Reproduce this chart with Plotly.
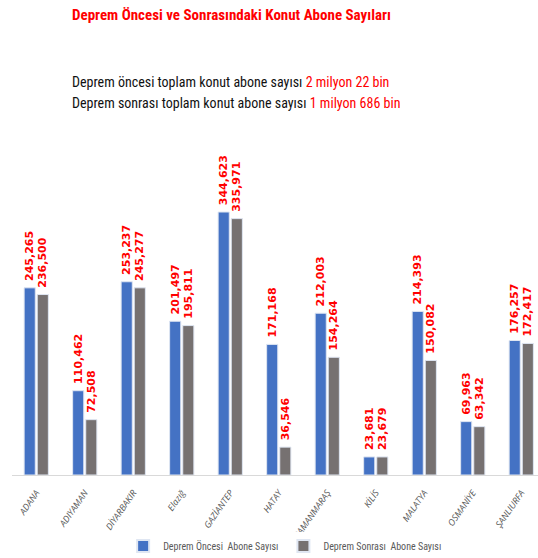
import plotly.graph_objects as go

iller = ["ADANA", "ADIYAMAN", "DİYARBAKIR", "Elazığ", "GAZİANTEP", "HATAY",
         "KAHRAMANMARAŞ", "KİLİS", "MALATYA", "OSMANİYE", "ŞANLIURFA"]
oncesi = [245265, 110462, 253237, 201497, 344623, 171168, 212003, 23681, 214393, 69963, 176257]
sonrasi = [236500, 72508, 245277, 195811, 335971, 36546, 154264, 23679, 150082, 63342, 172417]

seri_adlari = ["Deprem Öncesi  Abone Sayısı", "Deprem Sonrası  Abone Sayısı"]
renkler = ["#4472C4", "#767171"]

def fmt(v):
    return f"{v:,}"

fig = go.Figure()
for ad, vals, renk in zip(seri_adlari, [oncesi, sonrasi], renkler):
    fig.add_trace(go.Bar(
        x=iller, y=vals, name=ad,
        marker=dict(color=renk, line=dict(color="#dfe6f2", width=1)),
        text=[" " + fmt(v) for v in vals], textposition="outside", textangle=-90,
        textfont=dict(color="#FF0000", size=11, family="DejaVu Sans", weight="bold"),
        constraintext="none", cliponaxis=False,
    ))

NARROW = "Liberation Sans Narrow, Roboto Condensed, Roboto"

fig.update_layout(
    width=538, height=558,
    margin=dict(l=12, r=0, t=140, b=83, autoexpand=False),
    paper_bgcolor="white", plot_bgcolor="white",
    barmode="group", bargap=0.46, bargroupgap=0.15,
    showlegend=True,
    legend=dict(orientation="h", x=0.53, xanchor="center", xref="container",
                y=1 - 546 / 558, yanchor="middle", yref="container",
                font=dict(size=10, color="#595959", family=NARROW),
                itemwidth=30, tracegroupgap=0, itemsizing="constant"),
    xaxis=dict(range=[-0.5, 10.345], tickangle=-55, showline=True, linecolor="#d9d9d9",
               linewidth=1, ticks="", ticklabelstandoff=8,
               tickfont=dict(size=9, color="#595959", family="Open Sans", style="italic"),
               showgrid=False, fixedrange=True, automargin=False),
    yaxis=dict(range=[0, 439000], visible=False, showgrid=False),
    annotations=[
        dict(text="<b>Deprem Öncesi ve Sonrasındaki Konut Abone Sayıları</b>", xref="paper", yref="paper",
             x=(70 - 12) / 526, y=(558 - 83 - 15) / 335, xanchor="left", yanchor="middle",
             showarrow=False, font=dict(size=15, color="#FF0000", family=NARROW)),
        dict(text="Deprem öncesi toplam konut abone sayısı <span style='color:#FF0000'>2 milyon 22 bin</span>",
             xref="paper", yref="paper", x=(70 - 12) / 526, y=(558 - 83 - 82) / 335,
             xanchor="left", yanchor="middle", showarrow=False,
             font=dict(size=14, color="#111111", family=NARROW)),
        dict(text="Deprem sonrası toplam konut abone sayısı <span style='color:#FF0000'>1 milyon 686 bin</span>",
             xref="paper", yref="paper", x=(70 - 12) / 526, y=(558 - 83 - 103) / 335,
             xanchor="left", yanchor="middle", showarrow=False,
             font=dict(size=14, color="#111111", family=NARROW)),
    ],
)

fig.write_html("out.html")
